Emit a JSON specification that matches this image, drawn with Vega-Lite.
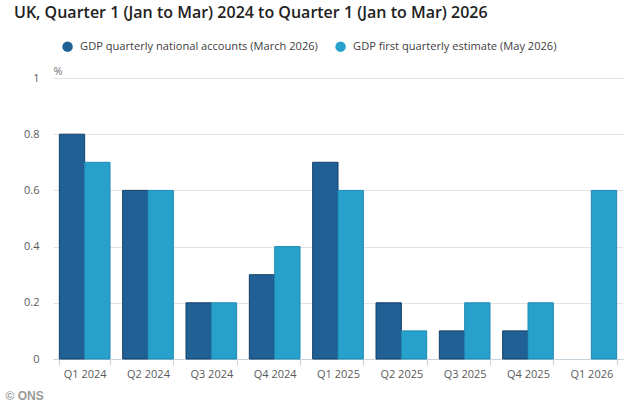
{
  "$schema": "https://vega.github.io/schema/vega-lite/v6.json",
  "width": 570,
  "height": 281,
  "autosize": {"type": "none"},
  "padding": {"left": 53, "top": 78, "right": 11, "bottom": 44},
  "background": "white",
  "title": {
    "text": "UK, Quarter 1 (Jan to Mar) 2024 to Quarter 1 (Jan to Mar) 2026",
    "anchor": "start",
    "frame": "group",
    "dx": -39,
    "offset": 20,
    "font": "Open Sans",
    "fontSize": 16,
    "fontWeight": 600,
    "color": "#222222"
  },
  "data": {
    "values": [
      {"quarter": "Q1 2024", "series": "GDP quarterly national accounts (March 2026)", "value": 0.8},
      {"quarter": "Q1 2024", "series": "GDP first quarterly estimate (May 2026)", "value": 0.7},
      {"quarter": "Q2 2024", "series": "GDP quarterly national accounts (March 2026)", "value": 0.6},
      {"quarter": "Q2 2024", "series": "GDP first quarterly estimate (May 2026)", "value": 0.6},
      {"quarter": "Q3 2024", "series": "GDP quarterly national accounts (March 2026)", "value": 0.2},
      {"quarter": "Q3 2024", "series": "GDP first quarterly estimate (May 2026)", "value": 0.2},
      {"quarter": "Q4 2024", "series": "GDP quarterly national accounts (March 2026)", "value": 0.3},
      {"quarter": "Q4 2024", "series": "GDP first quarterly estimate (May 2026)", "value": 0.4},
      {"quarter": "Q1 2025", "series": "GDP quarterly national accounts (March 2026)", "value": 0.7},
      {"quarter": "Q1 2025", "series": "GDP first quarterly estimate (May 2026)", "value": 0.6},
      {"quarter": "Q2 2025", "series": "GDP quarterly national accounts (March 2026)", "value": 0.2},
      {"quarter": "Q2 2025", "series": "GDP first quarterly estimate (May 2026)", "value": 0.1},
      {"quarter": "Q3 2025", "series": "GDP quarterly national accounts (March 2026)", "value": 0.1},
      {"quarter": "Q3 2025", "series": "GDP first quarterly estimate (May 2026)", "value": 0.2},
      {"quarter": "Q4 2025", "series": "GDP quarterly national accounts (March 2026)", "value": 0.1},
      {"quarter": "Q4 2025", "series": "GDP first quarterly estimate (May 2026)", "value": 0.2},
      {"quarter": "Q1 2026", "series": "GDP first quarterly estimate (May 2026)", "value": 0.6}
    ]
  },
  "mark": {"type": "bar", "strokeWidth": 1},
  "encoding": {
    "x": {
      "field": "quarter",
      "type": "nominal",
      "sort": null,
      "scale": {"paddingInner": 0.2, "paddingOuter": 0.1},
      "axis": {
        "labelAngle": 0,
        "tickBand": "extent",
        "tickSize": 6,
        "tickColor": "#c8d3dc",
        "domainColor": "#c8d3dc",
        "labelPadding": 3,
        "labelFont": "Open Sans",
        "labelFontSize": 11,
        "labelColor": "#5a5a5a",
        "title": "© ONS",
        "titleAnchor": "start",
        "titleAlign": "left",
        "titleBaseline": "middle",
        "titleX": -48,
        "titleY": 36,
        "titleFont": "Liberation Sans",
        "titleFontSize": 12,
        "titleFontWeight": "bold",
        "titleColor": "#9a9a9a"
      }
    },
    "xOffset": {
      "field": "series",
      "type": "nominal",
      "scale": {
        "domain": ["GDP quarterly national accounts (March 2026)", "GDP first quarterly estimate (May 2026)"],
        "paddingInner": 0
      }
    },
    "y": {
      "field": "value",
      "type": "quantitative",
      "scale": {"domain": [0, 1]},
      "axis": {
        "values": [0, 0.2, 0.4, 0.6, 0.8, 1],
        "format": ".1~f",
        "domain": false,
        "ticks": false,
        "gridColor": "#e3e3e3",
        "labelPadding": 14,
        "labelFont": "Open Sans",
        "labelFontSize": 11,
        "labelColor": "#5a5a5a",
        "title": "%",
        "titleAngle": 0,
        "titleAlign": "left",
        "titleBaseline": "alphabetic",
        "titleX": 0,
        "titleY": -4,
        "titleFont": "Open Sans",
        "titleFontSize": 11,
        "titleFontWeight": "normal",
        "titleColor": "#707070"
      }
    },
    "color": {
      "field": "series",
      "type": "nominal",
      "scale": {
        "domain": ["GDP quarterly national accounts (March 2026)", "GDP first quarterly estimate (May 2026)"],
        "range": ["#206095", "#27a0cc"]
      },
      "legend": {
        "title": null,
        "orient": "none",
        "direction": "horizontal",
        "legendX": 9,
        "legendY": -37,
        "symbolType": "circle",
        "symbolSize": 110,
        "symbolStrokeWidth": 0,
        "labelFont": "Open Sans",
        "labelFontSize": 11.1,
        "labelColor": "#414042",
        "labelLimit": 400,
        "columnPadding": 17,
        "labelOffset": 7
      }
    },
    "stroke": {
      "field": "series",
      "type": "nominal",
      "scale": {
        "domain": ["GDP quarterly national accounts (March 2026)", "GDP first quarterly estimate (May 2026)"],
        "range": ["#123f66", "#1f8ab3"]
      },
      "legend": null
    }
  },
  "config": {"view": {"stroke": null}}
}
